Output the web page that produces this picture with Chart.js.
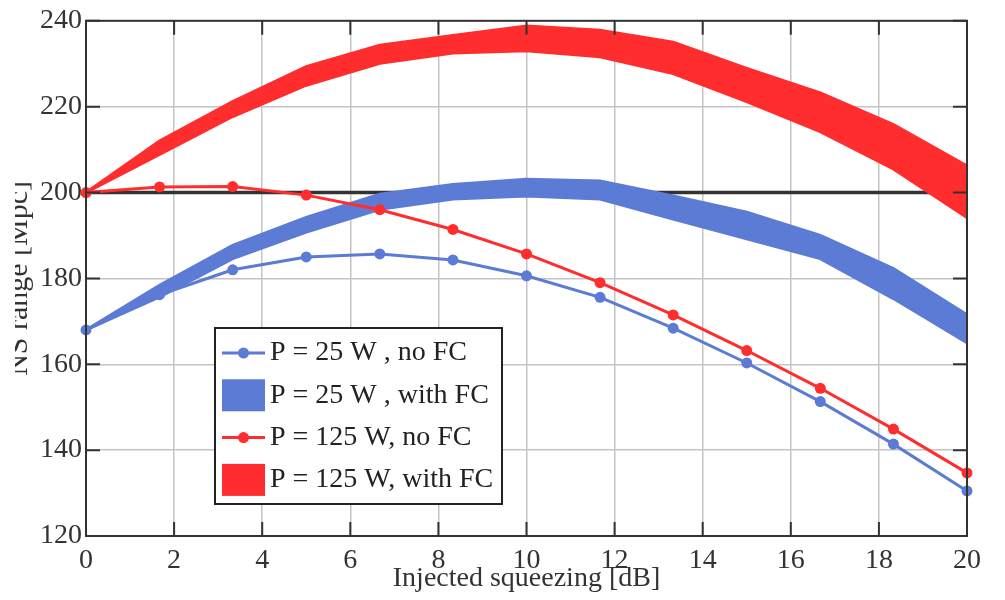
<!DOCTYPE html>
<html lang="en">
<head>
    <meta charset="UTF-8">
    <title>NS range vs injected squeezing</title>
    <style>
        body { margin: 0; background: #fff; }
        #wrap { width: 1005px; height: 600px; }
    </style>
</head>
<body>
    <div id="wrap"><canvas id="range-chart" width="1005" height="600"></canvas></div>

    <script src="https://cdn.jsdelivr.net/npm/chart.js"></script>
    <script>
        // Injected squeezing [dB]
        const squeezing = [0, 1.67, 3.33, 5, 6.67, 8.33, 10, 11.67, 13.33, 15, 16.67, 18.33, 20];

        // NS range [Mpc], P = 25 W
        const range25NoFC = [168, 176.2, 182.0, 185.0, 185.7, 184.3, 180.6, 175.6, 168.4, 160.3, 151.3, 141.4, 130.5];
        const range25FCHigh = [168, 178.4, 187.7, 194.2, 199.6, 201.9, 203.1, 202.7, 199.2, 195.4, 190.0, 182.3, 171.5];
        const range25FCLow = [168, 175.7, 184.6, 190.8, 196.1, 198.5, 199.2, 198.5, 193.8, 189.2, 184.6, 175.3, 165.0];

        // NS range [Mpc], P = 125 W
        const range125NoFC = [200, 201.3, 201.4, 199.4, 196.0, 191.4, 185.7, 179.0, 171.5, 163.2, 154.4, 144.9, 134.7];
        const range125FCHigh = [200, 212.0, 221.2, 229.3, 234.3, 236.6, 238.8, 237.8, 235.0, 228.9, 223.2, 215.8, 206.2];
        const range125FCLow = [200, 208.9, 217.7, 225.0, 230.1, 232.5, 233.0, 231.6, 227.7, 221.2, 214.2, 205.5, 194.2];

        // reference range without squeezing
        const referenceX = [0, 20];
        const referenceRange = [200, 200];

        const BLUE = '#5b7bd5';
        const RED = '#ff2d2d';
        const INK = '#333333';
        const FONT = '"Liberation Serif", "Times New Roman", serif';

        function toPoints(xs, ys) {
            return xs.map((x, i) => ({ x: x, y: ys[i] }));
        }

        // white page behind the chart
        const whiteBackground = {
            id: 'whiteBackground',
            beforeDraw(chart) {
                const ctx = chart.ctx;
                ctx.save();
                ctx.fillStyle = '#fff';
                ctx.fillRect(0, 0, chart.width, chart.height);
                ctx.restore();
            }
        };

        // box around the plot with inward ticks on all four sides
        const frameAndTicks = {
            id: 'frameAndTicks',
            afterDatasetsDraw(chart) {
                const { ctx, chartArea: a, scales: { x, y } } = chart;
                const len = 14;
                ctx.save();
                ctx.strokeStyle = INK;
                ctx.lineWidth = 2;
                ctx.strokeRect(a.left, a.top, a.right - a.left, a.bottom - a.top);
                ctx.beginPath();
                x.ticks.forEach(t => {
                    const px = x.getPixelForValue(t.value);
                    ctx.moveTo(px, a.bottom); ctx.lineTo(px, a.bottom - len);
                    ctx.moveTo(px, a.top); ctx.lineTo(px, a.top + len);
                });
                y.ticks.forEach(t => {
                    const py = y.getPixelForValue(t.value);
                    ctx.moveTo(a.left, py); ctx.lineTo(a.left + len, py);
                    ctx.moveTo(a.right, py); ctx.lineTo(a.right - len, py);
                });
                ctx.stroke();
                ctx.restore();
            }
        };

        // rotated y title, running off the left edge of the page
        const yTitle = {
            id: 'yTitle',
            afterDraw(chart) {
                const { ctx, chartArea: a } = chart;
                ctx.save();
                ctx.beginPath();
                ctx.rect(15, 0, chart.width - 15, chart.height);
                ctx.clip();
                ctx.translate(27, (a.top + a.bottom) / 2);
                ctx.rotate(-Math.PI / 2);
                ctx.font = '30px ' + FONT;
                ctx.fillStyle = INK;
                ctx.textAlign = 'center';
                ctx.textBaseline = 'alphabetic';
                ctx.fillText('NS range [Mpc]', 0, 0);
                ctx.restore();
            }
        };

        // boxed legend inside the plot, lower left
        const boxLegend = {
            id: 'boxLegend',
            afterDraw(chart) {
                const ctx = chart.ctx;
                const entries = chart.data.datasets.filter(d => d.legendKind);
                const left = 215, top = 328, w = 287, h = 176, rowH = 42.3;
                ctx.save();
                ctx.fillStyle = '#fff';
                ctx.fillRect(left, top, w, h);
                ctx.strokeStyle = '#222';
                ctx.lineWidth = 2;
                ctx.strokeRect(left, top, w, h);
                ctx.font = '28px ' + FONT;
                ctx.textBaseline = 'middle';
                entries.forEach((d, i) => {
                    const cy = top + 25 + i * rowH;
                    const color = d.borderColor;
                    if (d.legendKind === 'line') {
                        ctx.strokeStyle = color;
                        ctx.lineWidth = 3;
                        ctx.beginPath();
                        ctx.moveTo(left + 7, cy);
                        ctx.lineTo(left + 50, cy);
                        ctx.stroke();
                        ctx.fillStyle = color;
                        ctx.beginPath();
                        ctx.arc(left + 28.5, cy, 5.5, 0, Math.PI * 2);
                        ctx.fill();
                    } else {
                        ctx.fillStyle = color;
                        ctx.fillRect(left + 7, cy - 16, 43, 32);
                    }
                    ctx.fillStyle = '#222';
                    ctx.fillText(d.label, left + 55, cy);
                });
                ctx.restore();
            }
        };

        const axisFont = { family: FONT, size: 28 };

        new Chart(document.getElementById('range-chart'), {
            type: 'line',
            data: {
                datasets: [
                    {
                        label: 'P = 25 W , no FC', legendKind: 'line',
                        data: toPoints(squeezing, range25NoFC),
                        borderColor: BLUE, backgroundColor: BLUE, borderWidth: 3,
                        pointRadius: 5.5, pointBorderWidth: 0, clip: false, order: 1
                    },
                    {
                        label: 'P = 25 W , with FC', legendKind: 'band',
                        data: toPoints(squeezing, range25FCHigh),
                        borderColor: BLUE, backgroundColor: BLUE, borderWidth: 3,
                        pointRadius: 0, fill: '+1', order: 2
                    },
                    {
                        label: 'P = 25 W , with FC (low)',
                        data: toPoints(squeezing, range25FCLow),
                        borderColor: BLUE, borderWidth: 3, pointRadius: 0, fill: false, order: 2
                    },
                    {
                        label: 'P = 125 W, no FC', legendKind: 'line',
                        data: toPoints(squeezing, range125NoFC),
                        borderColor: RED, backgroundColor: RED, borderWidth: 3,
                        pointRadius: 5.5, pointBorderWidth: 0, clip: false, order: 0
                    },
                    {
                        label: 'P = 125 W, with FC', legendKind: 'band',
                        data: toPoints(squeezing, range125FCHigh),
                        borderColor: RED, backgroundColor: RED, borderWidth: 3,
                        pointRadius: 0, fill: '+1', order: 2
                    },
                    {
                        label: 'P = 125 W, with FC (low)',
                        data: toPoints(squeezing, range125FCLow),
                        borderColor: RED, borderWidth: 3, pointRadius: 0, fill: false, order: 2
                    },
                    {
                        label: 'reference',
                        data: toPoints(referenceX, referenceRange),
                        borderColor: '#333333', borderWidth: 3.5, pointRadius: 0, order: 3
                    }
                ]
            },
            options: {
                responsive: false,
                animation: false,
                devicePixelRatio: 1,
                layout: { padding: { left: 0, right: 38, top: 17, bottom: 0 } },
                elements: { line: { tension: 0 } },
                plugins: {
                    legend: { display: false },
                    tooltip: { enabled: false }
                },
                scales: {
                    x: {
                        type: 'linear', min: 0, max: 20,
                        ticks: { stepSize: 2, color: INK, font: axisFont, padding: 8, maxRotation: 0, autoSkip: false },
                        grid: { color: '#c4c4c4', lineWidth: 1.5, drawTicks: false },
                        border: { display: false },
                        title: {
                            display: true, text: 'Injected squeezing [dB]', color: INK,
                            font: axisFont, padding: { top: 0, bottom: 5 }
                        },
                        afterFit(scale) { scale.height = 64; }
                    },
                    y: {
                        min: 120, max: 240,
                        ticks: { stepSize: 20, color: INK, font: axisFont, padding: 4 },
                        grid: { color: '#c4c4c4', lineWidth: 1.5, drawTicks: false },
                        border: { display: false },
                        afterFit(scale) { scale.width = 86; }
                    }
                }
            },
            plugins: [whiteBackground, frameAndTicks, yTitle, boxLegend]
        });
    </script>
</body>
</html>
